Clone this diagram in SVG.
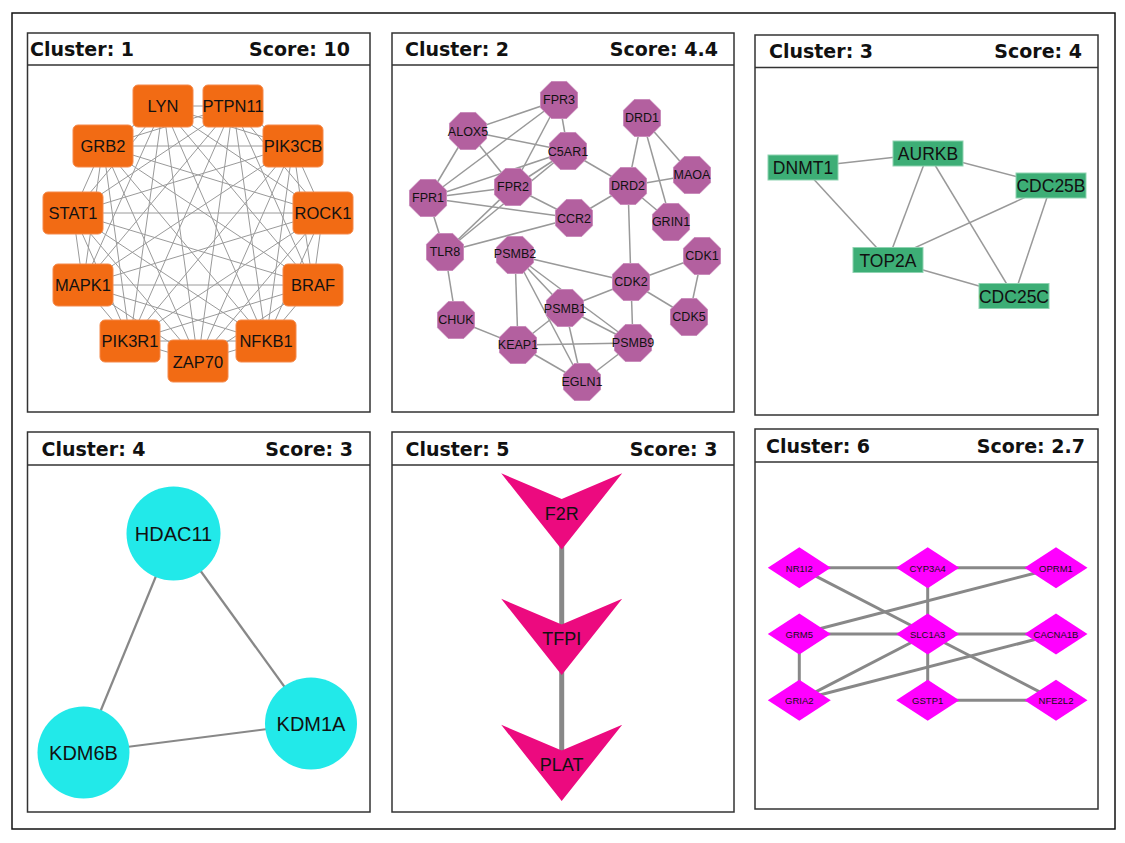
<svg xmlns="http://www.w3.org/2000/svg" xmlns:xlink="http://www.w3.org/1999/xlink" width="1125" height="843" viewBox="0 0 1125 843">
<style>
.panel{fill:#fff;stroke:#333;stroke-width:1.5}
.hdr{font-family:"DejaVu Sans",Verdana,sans-serif;font-weight:bold;font-size:19px;fill:#111}
.lbl{font-family:"Liberation Sans",Arial,sans-serif;fill:#111;text-anchor:middle;dominant-baseline:central}
.e1{stroke:#9a9a9a;stroke-width:1;fill:none}
.e2{stroke:#999;stroke-width:1.5;fill:none}
.e3{stroke:#999;stroke-width:1.5;fill:none}
.e4{stroke:#888;stroke-width:2.2;fill:none}
.e5{stroke:#888;stroke-width:5;fill:none}
.e6{stroke:#888;stroke-width:3;fill:none}
.n1{fill:#f26b14;stroke:#f5894a;stroke-width:1}
.n2{fill:#b3609f;stroke:#c98cbb;stroke-width:1}
.n3{fill:#3dae76;stroke:#8fd3b1;stroke-width:1}
.n4{fill:#22e9e9}
.n5{fill:#ec0a7f}
.n6{fill:#ff00ff}
</style>
<defs>
<rect id="rr" x="-30" y="-21" width="60" height="42" rx="5" ry="5"/>
<polygon id="oct" points="18.5,7.7 7.7,18.5 -7.7,18.5 -18.5,7.7 -18.5,-7.7 -7.7,-18.5 7.7,-18.5 18.5,-7.7"/>
<rect id="gr" x="-35" y="-12.5" width="70" height="25"/>
<polygon id="vee" points="-60.5,-25.7 0,0 60.5,-25.7 0,50.5"/>
<polygon id="dia" points="-31.5,0 0,-20.5 31.5,0 0,20.5"/>
</defs>
<rect x="12" y="13" width="1103" height="816" fill="#fff" stroke="#111" stroke-width="1.5"/>

<g id="panels">
<rect class="panel" x="27.5" y="33" width="342.5" height="379"/>
<line x1="27.5" y1="65" x2="370" y2="65" stroke="#333" stroke-width="1.5"/>
<text class="hdr" x="30" y="55.5">Cluster: 1</text><text class="hdr" x="350" y="55.5" text-anchor="end">Score: 10</text>
<rect class="panel" x="392" y="33" width="342" height="379"/>
<line x1="392" y1="65" x2="734" y2="65" stroke="#333" stroke-width="1.5"/>
<text class="hdr" x="405" y="55.5">Cluster: 2</text><text class="hdr" x="718" y="55.5" text-anchor="end">Score: 4.4</text>
<rect class="panel" x="755" y="35" width="343" height="380"/>
<line x1="755" y1="67.5" x2="1098" y2="67.5" stroke="#333" stroke-width="1.5"/>
<text class="hdr" x="769" y="58">Cluster: 3</text><text class="hdr" x="1082" y="58" text-anchor="end">Score: 4</text>
<rect class="panel" x="27.5" y="432" width="342.5" height="380"/>
<line x1="27.5" y1="465" x2="370" y2="465" stroke="#333" stroke-width="1.5"/>
<text class="hdr" x="41.5" y="455.5">Cluster: 4</text><text class="hdr" x="353" y="455.5" text-anchor="end">Score: 3</text>
<rect class="panel" x="392" y="432" width="342" height="380"/>
<line x1="392" y1="465" x2="734" y2="465" stroke="#333" stroke-width="1.5"/>
<text class="hdr" x="405.5" y="455.5">Cluster: 5</text><text class="hdr" x="717.5" y="455.5" text-anchor="end">Score: 3</text>
<rect class="panel" x="755" y="429" width="343" height="380"/>
<line x1="755" y1="462" x2="1098" y2="462" stroke="#333" stroke-width="1.5"/>
<text class="hdr" x="766" y="453">Cluster: 6</text><text class="hdr" x="1085" y="453" text-anchor="end">Score: 2.7</text>
</g>

<g id="connectors">
<g class="e1">
<line x1="163" y1="106" x2="233" y2="106"/><line x1="163" y1="106" x2="293" y2="146"/><line x1="163" y1="106" x2="323" y2="213"/><line x1="163" y1="106" x2="313" y2="285"/><line x1="163" y1="106" x2="266" y2="341"/><line x1="163" y1="106" x2="198" y2="361"/><line x1="163" y1="106" x2="130" y2="341"/><line x1="163" y1="106" x2="83" y2="285"/><line x1="163" y1="106" x2="73" y2="213"/><line x1="163" y1="106" x2="103" y2="146"/>
<line x1="233" y1="106" x2="293" y2="146"/><line x1="233" y1="106" x2="323" y2="213"/><line x1="233" y1="106" x2="313" y2="285"/><line x1="233" y1="106" x2="266" y2="341"/><line x1="233" y1="106" x2="198" y2="361"/><line x1="233" y1="106" x2="130" y2="341"/><line x1="233" y1="106" x2="83" y2="285"/><line x1="233" y1="106" x2="73" y2="213"/><line x1="233" y1="106" x2="103" y2="146"/>
<line x1="293" y1="146" x2="323" y2="213"/><line x1="293" y1="146" x2="313" y2="285"/><line x1="293" y1="146" x2="266" y2="341"/><line x1="293" y1="146" x2="198" y2="361"/><line x1="293" y1="146" x2="130" y2="341"/><line x1="293" y1="146" x2="83" y2="285"/><line x1="293" y1="146" x2="73" y2="213"/><line x1="293" y1="146" x2="103" y2="146"/>
<line x1="323" y1="213" x2="313" y2="285"/><line x1="323" y1="213" x2="266" y2="341"/><line x1="323" y1="213" x2="198" y2="361"/><line x1="323" y1="213" x2="130" y2="341"/><line x1="323" y1="213" x2="83" y2="285"/><line x1="323" y1="213" x2="73" y2="213"/><line x1="323" y1="213" x2="103" y2="146"/>
<line x1="313" y1="285" x2="266" y2="341"/><line x1="313" y1="285" x2="198" y2="361"/><line x1="313" y1="285" x2="130" y2="341"/><line x1="313" y1="285" x2="83" y2="285"/><line x1="313" y1="285" x2="73" y2="213"/><line x1="313" y1="285" x2="103" y2="146"/>
<line x1="266" y1="341" x2="198" y2="361"/><line x1="266" y1="341" x2="130" y2="341"/><line x1="266" y1="341" x2="83" y2="285"/><line x1="266" y1="341" x2="73" y2="213"/><line x1="266" y1="341" x2="103" y2="146"/>
<line x1="198" y1="361" x2="130" y2="341"/><line x1="198" y1="361" x2="83" y2="285"/><line x1="198" y1="361" x2="73" y2="213"/><line x1="198" y1="361" x2="103" y2="146"/>
<line x1="130" y1="341" x2="83" y2="285"/><line x1="130" y1="341" x2="73" y2="213"/><line x1="130" y1="341" x2="103" y2="146"/>
<line x1="83" y1="285" x2="73" y2="213"/><line x1="83" y1="285" x2="103" y2="146"/>
<line x1="73" y1="213" x2="103" y2="146"/>
</g>
<g class="e2">
<line x1="559" y1="100" x2="468" y2="131"/><line x1="559" y1="100" x2="568" y2="151"/><line x1="559" y1="100" x2="428" y2="198"/><line x1="559" y1="100" x2="513" y2="187"/>
<line x1="468" y1="131" x2="568" y2="151"/><line x1="468" y1="131" x2="513" y2="187"/><line x1="468" y1="131" x2="428" y2="198"/>
<line x1="568" y1="151" x2="428" y2="198"/><line x1="568" y1="151" x2="513" y2="187"/><line x1="568" y1="151" x2="445" y2="252"/><line x1="568" y1="151" x2="628" y2="186"/>
<line x1="513" y1="187" x2="428" y2="198"/><line x1="513" y1="187" x2="574" y2="218"/><line x1="513" y1="187" x2="445" y2="252"/>
<line x1="428" y1="198" x2="574" y2="218"/><line x1="428" y1="198" x2="445" y2="252"/>
<line x1="574" y1="218" x2="628" y2="186"/><line x1="574" y1="218" x2="445" y2="252"/>
<line x1="642" y1="118" x2="628" y2="186"/><line x1="642" y1="118" x2="692" y2="175"/><line x1="642" y1="118" x2="671" y2="222"/>
<line x1="692" y1="175" x2="628" y2="186"/><line x1="628" y1="186" x2="671" y2="222"/><line x1="628" y1="186" x2="631" y2="282"/>
<line x1="445" y1="252" x2="456" y2="320"/>
<line x1="515" y1="255" x2="631" y2="282"/><line x1="515" y1="255" x2="565" y2="308"/><line x1="515" y1="255" x2="518" y2="345"/><line x1="515" y1="255" x2="633" y2="343"/><line x1="515" y1="255" x2="582" y2="382"/>
<line x1="631" y1="282" x2="702" y2="256"/><line x1="631" y1="282" x2="689" y2="317"/><line x1="631" y1="282" x2="565" y2="308"/><line x1="631" y1="282" x2="633" y2="343"/>
<line x1="702" y1="256" x2="689" y2="317"/>
<line x1="565" y1="308" x2="518" y2="345"/><line x1="565" y1="308" x2="633" y2="343"/><line x1="565" y1="308" x2="582" y2="382"/>
<line x1="456" y1="320" x2="518" y2="345"/><line x1="518" y1="345" x2="633" y2="343"/><line x1="518" y1="345" x2="582" y2="382"/><line x1="633" y1="343" x2="582" y2="382"/>
</g>
<g class="e3">
<line x1="803" y1="167.5" x2="928" y2="153.5"/><line x1="803" y1="167.5" x2="888" y2="260"/><line x1="928" y1="153.5" x2="888" y2="260"/><line x1="928" y1="153.5" x2="1051" y2="185.5"/><line x1="928" y1="153.5" x2="1014" y2="296"/><line x1="1051" y1="185.5" x2="888" y2="260"/><line x1="1051" y1="185.5" x2="1014" y2="296"/><line x1="888" y1="260" x2="1014" y2="296"/>
</g>
<g class="e4">
<line x1="173.5" y1="533.5" x2="83.5" y2="752.5"/><line x1="173.5" y1="533.5" x2="311" y2="723.5"/><line x1="83.5" y1="752.5" x2="311" y2="723.5"/>
</g>
<g class="e5">
<line x1="561.7" y1="510" x2="561.7" y2="760"/>
</g>
<g class="e6">
<line x1="799.3" y1="567.7" x2="927.7" y2="567.7"/><line x1="927.7" y1="567.7" x2="1056" y2="567.7"/>
<line x1="799.3" y1="567.7" x2="927.7" y2="634"/><line x1="927.7" y1="634" x2="1056" y2="700.3"/>
<line x1="927.7" y1="567.7" x2="927.7" y2="634"/><line x1="1056" y1="567.7" x2="799.3" y2="634"/>
<line x1="799.3" y1="634" x2="927.7" y2="634"/><line x1="927.7" y1="634" x2="1056" y2="634"/>
<line x1="799.3" y1="634" x2="799.3" y2="700.3"/><line x1="799.3" y1="700.3" x2="927.7" y2="634"/>
<line x1="799.3" y1="700.3" x2="1056" y2="634"/><line x1="927.7" y1="634" x2="927.7" y2="700.3"/>
<line x1="927.7" y1="700.3" x2="1056" y2="700.3"/>
</g>
</g>

<g id="c1-LYN"><use href="#rr" class="n1" x="163" y="106"/><text class="lbl" x="163" y="106" font-size="16.5">LYN</text></g>
<g id="c1-PTPN11"><use href="#rr" class="n1" x="233" y="106"/><text class="lbl" x="233" y="106" font-size="16.5">PTPN11</text></g>
<g id="c1-GRB2"><use href="#rr" class="n1" x="103" y="146"/><text class="lbl" x="103" y="146" font-size="16.5">GRB2</text></g>
<g id="c1-PIK3CB"><use href="#rr" class="n1" x="293" y="146"/><text class="lbl" x="293" y="146" font-size="16.5">PIK3CB</text></g>
<g id="c1-STAT1"><use href="#rr" class="n1" x="73" y="213"/><text class="lbl" x="73" y="213" font-size="16.5">STAT1</text></g>
<g id="c1-ROCK1"><use href="#rr" class="n1" x="323" y="213"/><text class="lbl" x="323" y="213" font-size="16.5">ROCK1</text></g>
<g id="c1-MAPK1"><use href="#rr" class="n1" x="83" y="285"/><text class="lbl" x="83" y="285" font-size="16.5">MAPK1</text></g>
<g id="c1-BRAF"><use href="#rr" class="n1" x="313" y="285"/><text class="lbl" x="313" y="285" font-size="16.5">BRAF</text></g>
<g id="c1-PIK3R1"><use href="#rr" class="n1" x="130" y="341"/><text class="lbl" x="130" y="341" font-size="16.5">PIK3R1</text></g>
<g id="c1-NFKB1"><use href="#rr" class="n1" x="266" y="341"/><text class="lbl" x="266" y="341" font-size="16.5">NFKB1</text></g>
<g id="c1-ZAP70"><use href="#rr" class="n1" x="198" y="361"/><text class="lbl" x="198" y="362" font-size="16.5">ZAP70</text></g>

<g id="c2-FPR3"><use href="#oct" class="n2" x="559" y="100"/><text class="lbl" x="559" y="100" font-size="12.5">FPR3</text></g>
<g id="c2-ALOX5"><use href="#oct" class="n2" x="468" y="131"/><text class="lbl" x="468" y="132" font-size="12.5">ALOX5</text></g>
<g id="c2-DRD1"><use href="#oct" class="n2" x="642" y="118"/><text class="lbl" x="642" y="118" font-size="12.5">DRD1</text></g>
<g id="c2-C5AR1"><use href="#oct" class="n2" x="568" y="151"/><text class="lbl" x="568" y="152" font-size="12.5">C5AR1</text></g>
<g id="c2-MAOA"><use href="#oct" class="n2" x="692" y="175"/><text class="lbl" x="692" y="175" font-size="12.5">MAOA</text></g>
<g id="c2-FPR2"><use href="#oct" class="n2" x="513" y="187"/><text class="lbl" x="513" y="187" font-size="12.5">FPR2</text></g>
<g id="c2-DRD2"><use href="#oct" class="n2" x="628" y="186"/><text class="lbl" x="628" y="186" font-size="12.5">DRD2</text></g>
<g id="c2-FPR1"><use href="#oct" class="n2" x="428" y="198"/><text class="lbl" x="428" y="198" font-size="12.5">FPR1</text></g>
<g id="c2-CCR2"><use href="#oct" class="n2" x="574" y="218"/><text class="lbl" x="574" y="219" font-size="12.5">CCR2</text></g>
<g id="c2-GRIN1"><use href="#oct" class="n2" x="671" y="222"/><text class="lbl" x="671" y="222" font-size="12.5">GRIN1</text></g>
<g id="c2-TLR8"><use href="#oct" class="n2" x="445" y="252"/><text class="lbl" x="445" y="252" font-size="12.5">TLR8</text></g>
<g id="c2-PSMB2"><use href="#oct" class="n2" x="515" y="255"/><text class="lbl" x="515" y="254" font-size="12.5">PSMB2</text></g>
<g id="c2-CDK1"><use href="#oct" class="n2" x="702" y="256"/><text class="lbl" x="702" y="256" font-size="12.5">CDK1</text></g>
<g id="c2-CDK2"><use href="#oct" class="n2" x="631" y="282"/><text class="lbl" x="631" y="282" font-size="12.5">CDK2</text></g>
<g id="c2-PSMB1"><use href="#oct" class="n2" x="565" y="308"/><text class="lbl" x="565" y="309" font-size="12.5">PSMB1</text></g>
<g id="c2-CDK5"><use href="#oct" class="n2" x="689" y="317"/><text class="lbl" x="689" y="317" font-size="12.5">CDK5</text></g>
<g id="c2-CHUK"><use href="#oct" class="n2" x="456" y="320"/><text class="lbl" x="456" y="320" font-size="12.5">CHUK</text></g>
<g id="c2-KEAP1"><use href="#oct" class="n2" x="518" y="345"/><text class="lbl" x="518" y="345" font-size="12.5">KEAP1</text></g>
<g id="c2-PSMB9"><use href="#oct" class="n2" x="633" y="343"/><text class="lbl" x="633" y="343" font-size="12.5">PSMB9</text></g>
<g id="c2-EGLN1"><use href="#oct" class="n2" x="582" y="382"/><text class="lbl" x="582" y="382" font-size="12.5">EGLN1</text></g>

<g id="c3-DNMT1"><use href="#gr" class="n3" x="803" y="167.5"/><text class="lbl" x="803" y="168" font-size="17.5">DNMT1</text></g>
<g id="c3-AURKB"><use href="#gr" class="n3" x="928" y="153.5"/><text class="lbl" x="928" y="154" font-size="17.5">AURKB</text></g>
<g id="c3-CDC25B"><use href="#gr" class="n3" x="1051" y="185.5"/><text class="lbl" x="1051" y="186" font-size="17.5">CDC25B</text></g>
<g id="c3-TOP2A"><use href="#gr" class="n3" x="888" y="260"/><text class="lbl" x="888" y="260.5" font-size="17.5">TOP2A</text></g>
<g id="c3-CDC25C"><use href="#gr" class="n3" x="1014" y="296"/><text class="lbl" x="1014" y="296.5" font-size="17.5">CDC25C</text></g>

<g id="c4-HDAC11"><circle class="n4" cx="173.5" cy="533.5" r="47"/><text class="lbl" x="173.5" y="534" font-size="20">HDAC11</text></g>
<g id="c4-KDM6B"><circle class="n4" cx="83.5" cy="752.5" r="46"/><text class="lbl" x="83.5" y="753" font-size="20">KDM6B</text></g>
<g id="c4-KDM1A"><circle class="n4" cx="311" cy="723.5" r="46"/><text class="lbl" x="311" y="724" font-size="20">KDM1A</text></g>

<g id="c5-F2R"><use href="#vee" class="n5" x="561.7" y="499"/><text class="lbl" x="561.7" y="513.5" font-size="18">F2R</text></g>
<g id="c5-TFPI"><use href="#vee" class="n5" x="561.7" y="624.5"/><text class="lbl" x="561.7" y="638.5" font-size="18">TFPI</text></g>
<g id="c5-PLAT"><use href="#vee" class="n5" x="561.7" y="750.5"/><text class="lbl" x="561.7" y="764.5" font-size="18">PLAT</text></g>

<g id="c6-NR1I2"><use href="#dia" class="n6" x="799.3" y="567.7"/><text class="lbl" x="799.3" y="568" font-size="9.5" fill="#222">NR1I2</text></g>
<g id="c6-CYP3A4"><use href="#dia" class="n6" x="927.7" y="567.7"/><text class="lbl" x="927.7" y="568" font-size="9.5" fill="#222">CYP3A4</text></g>
<g id="c6-OPRM1"><use href="#dia" class="n6" x="1056" y="567.7"/><text class="lbl" x="1056" y="568" font-size="9.5" fill="#222">OPRM1</text></g>
<g id="c6-GRM5"><use href="#dia" class="n6" x="799.3" y="634"/><text class="lbl" x="799.3" y="634.3" font-size="9.5" fill="#222">GRM5</text></g>
<g id="c6-SLC1A3"><use href="#dia" class="n6" x="927.7" y="634"/><text class="lbl" x="927.7" y="634.3" font-size="9.5" fill="#222">SLC1A3</text></g>
<g id="c6-CACNA1B"><use href="#dia" class="n6" x="1056" y="634"/><text class="lbl" x="1056" y="634.3" font-size="9.5" fill="#222">CACNA1B</text></g>
<g id="c6-GRIA2"><use href="#dia" class="n6" x="799.3" y="700.3"/><text class="lbl" x="799.3" y="700.6" font-size="9.5" fill="#222">GRIA2</text></g>
<g id="c6-GSTP1"><use href="#dia" class="n6" x="927.7" y="700.3"/><text class="lbl" x="927.7" y="700.6" font-size="9.5" fill="#222">GSTP1</text></g>
<g id="c6-NFE2L2"><use href="#dia" class="n6" x="1056" y="700.3"/><text class="lbl" x="1056" y="700.6" font-size="9.5" fill="#222">NFE2L2</text></g>
</svg>
